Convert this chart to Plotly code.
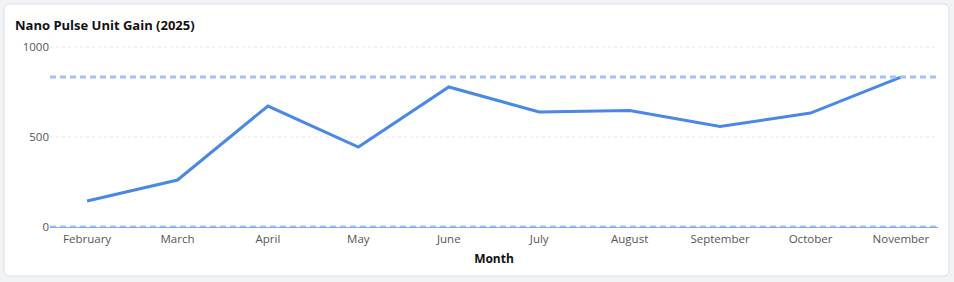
import plotly.graph_objects as go

months = ["February", "March", "April", "May", "June", "July", "August",
          "September", "October", "November"]
gain = [144, 261, 672, 444, 778, 639, 647, 558, 633, 833]
ref_lines = [833, 0]
y_ticks = [0, 500, 1000]

W, H = 954, 282
L, R, T, B = 50, 16, 46, 55
pw, ph = W - L - R, H - T - B

def px(x):
    return (x - L) / pw

def py(y):
    return (H - B - y) / ph

fig = go.Figure()
fig.add_trace(go.Scatter(x=months, y=gain, mode="lines",
                         line=dict(color="#4a88e6", width=3),
                         hoverinfo="x+y", showlegend=False, cliponaxis=False))

# card background (first so it sits beneath everything)
x0, x1, y0, y1, r = px(4), px(949), py(276), py(4), 6
rx, ry = r / pw, r / ph
path = (f"M {x0+rx},{y0} L {x1-rx},{y0} Q {x1},{y0} {x1},{y0+ry} "
        f"L {x1},{y1-ry} Q {x1},{y1} {x1-rx},{y1} L {x0+rx},{y1} "
        f"Q {x0},{y1} {x0},{y1-ry} L {x0},{y0+ry} Q {x0},{y0} {x0+rx},{y0} Z")
fig.add_shape(type="path", xref="paper", yref="paper", path=path,
              fillcolor="white", line=dict(color="#dcdfe4", width=1), layer="below")

# grid lines
for v in y_ticks[1:]:
    fig.add_shape(type="line", xref="paper", yref="y", x0=0, x1=1, y0=v, y1=v,
                  line=dict(color="#e6e6e6", width=1, dash="3px,3px"), layer="below")

for v in ref_lines:
    fig.add_shape(type="line", xref="paper", yref="y", x0=0, x1=1, y0=v, y1=v,
                  line=dict(color="#a4c2f4", width=3, dash="6px,4px"), layer="above")

fig.update_layout(
    width=W, height=H,
    margin=dict(l=L, r=R, t=T, b=B),
    paper_bgcolor="#f1f3f6", plot_bgcolor="rgba(0,0,0,0)",
    font=dict(family="Open Sans, Noto Sans, sans-serif", color="#555", size=12),
    title=dict(text="<b>Nano Pulse Unit Gain (2025)</b>", x=15 / W, xanchor="left",
               y=1 - 25 / H, yanchor="middle",
               font=dict(size=13, color="#111")),
    xaxis=dict(type="category", range=[-0.41, len(months) - 1 + 0.41],
               showgrid=False, showline=True, linecolor="#7fa8ea", linewidth=1,
               zeroline=False, ticks="outside", ticklen=1, tickcolor="rgba(0,0,0,0)",
               tickfont=dict(size=11.5, color="#555"),
               title=dict(text="<b>Month</b>", font=dict(size=12, color="#111"), standoff=9)),
    yaxis=dict(range=[0, 1005.5], tickvals=y_ticks, showgrid=False,
               zeroline=False, showline=False, ticks="",
               tickfont=dict(size=11.5, color="#555")),
)

fig.write_html("out.html")
